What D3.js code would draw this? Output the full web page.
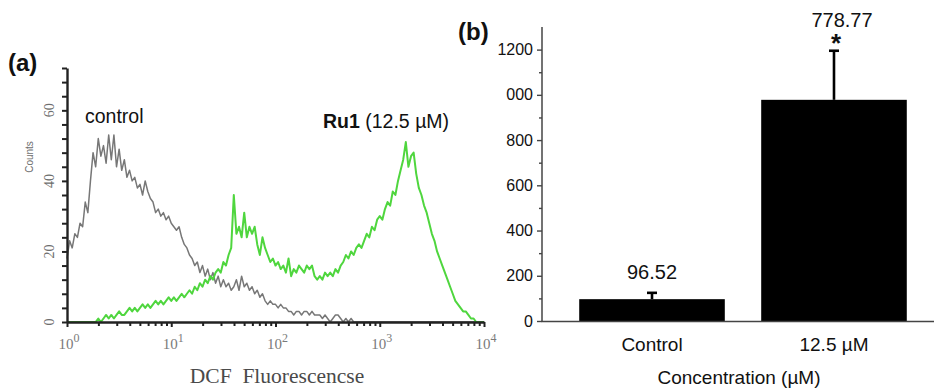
<!DOCTYPE html>
<html>
<head>
<meta charset="utf-8">
<script src="https://cdn.jsdelivr.net/npm/d3@7"></script>
<style>
  body { margin: 0; background: #fff; }
  svg { display: block; background: #fff; }
</style>
</head>
<body>
<svg></svg>
<script>
// Histograma (a): conteos por canal, canales espaciados 0.025 en log10 desde 10^0
const logStep = 0.025;
const controlCounts = [
  18, 23, 21, 25, 24, 28, 27, 34, 31, 40, 48, 44, 52, 47, 50, 45, 53, 46, 53, 44,
  49, 43, 46, 41, 43, 40, 41, 38, 39, 36, 40, 37, 35, 34, 31, 32, 30, 31, 29, 30,
  28, 27, 26, 27, 24, 22, 21, 19, 18, 16, 17, 14, 16, 13, 15, 12, 14, 11, 13, 10,
  12, 10, 11, 9, 10, 12, 9, 13, 10, 11, 9, 10, 8, 9, 7, 8, 6, 5, 6, 5,
  5, 4, 5, 4, 4, 3, 3, 2, 3, 3, 2, 3, 3, 2, 3, 2, 2, 2, 1, 2,
  1, 0, 1, 2, 2, 1, 0, 1, 0, 1, 0, 0, 0, 0, 0, 0, 0, 0, 0, 0,
  0, 0, 0, 0, 0, 0, 0, 0, 0, 0, 0, 0, 0, 0, 0, 0, 0, 0, 0, 0,
  0, 0, 0, 0, 0, 0, 0, 0, 0, 0, 0, 0, 0, 0, 0, 0, 0, 0, 0, 0, 0
];
const ru1Counts = [
  0, 0, 0, 0, 0, 0, 0, 0, 0, 0, 0, 0, 1, 0, 1, 2, 1, 2, 1, 2,
  3, 2, 2, 3, 4, 3, 4, 3, 4, 5, 4, 5, 4, 5, 6, 5, 6, 5, 6, 7,
  6, 7, 6, 7, 8, 7, 8, 9, 8, 10, 9, 11, 10, 12, 11, 13, 12, 14, 15, 14,
  17, 16, 19, 21, 36, 25, 27, 24, 31, 24, 27, 25, 27, 22, 19, 24, 21, 19, 17, 18,
  16, 17, 15, 16, 14, 18, 13, 15, 14, 16, 15, 14, 16, 15, 16, 13, 12, 13, 12, 14,
  13, 14, 13, 15, 14, 16, 17, 19, 18, 20, 19, 21, 22, 21, 23, 25, 24, 27, 26, 29,
  30, 29, 32, 34, 33, 37, 36, 40, 43, 46, 51, 44, 47, 48, 42, 38, 36, 33, 31, 28,
  25, 23, 20, 18, 16, 14, 12, 10, 8, 6, 5, 4, 3, 3, 2, 1, 1, 0, 0, 0, 0
];
const xExponents = [0, 1, 2, 3, 4];
const yLabelsA = [0, 20, 40, 60];

// Barras (b)
const categories = ["Control", "12.5 µM"];
const barValues = [96.52, 978];
const errorValues = [28, 217];
const barLabels = ["96.52", "778.77"];
const significance = ["", "*"];
const yTicksB = [0, 200, 400, 600, 800, 1000, 1200];
const yTickLabelsB = ["0", "200", "400", "600", "800", "000", "1200"];
const yMinorB = [100, 300, 500, 700, 900, 1100];

const svg = d3.select("svg").attr("width", 934).attr("height", 389);

// ---------- Panel (a) ----------
const xA = d3.scaleLog().domain([1, 1e4]).range([67, 484]);
const yA = d3.scaleLinear().domain([0, 72]).range([322, 68]);
const gA = svg.append("g");

const histLine = d3.line()
  .x((d, i) => xA(Math.pow(10, i * logStep)))
  .y(d => yA(d));

gA.append("path")
  .datum(controlCounts)
  .attr("d", histLine)
  .attr("fill", "none")
  .attr("stroke", "#777")
  .attr("stroke-width", 1.5)
  .attr("stroke-linejoin", "round");

gA.append("path")
  .datum(ru1Counts)
  .attr("d", histLine)
  .attr("fill", "none")
  .attr("stroke", "#4fd63e")
  .attr("stroke-width", 2)
  .attr("stroke-linejoin", "round");

// Ticks del eje x (mayores y menores logarítmicos)
const xMinor = [];
for (let k = 0; k < 4; k++) for (let m = 2; m <= 9; m++) xMinor.push(m * Math.pow(10, k));

gA.append("g")
  .attr("transform", `translate(0,${yA(0)})`)
  .call(d3.axisBottom(xA).tickValues(xMinor).tickSize(4).tickSizeOuter(0).tickFormat(""))
  .call(g => g.select(".domain").remove())
  .call(g => g.selectAll("line").attr("stroke", "#222").attr("stroke-width", 2));

gA.append("g")
  .attr("transform", `translate(0,${yA(0)})`)
  .call(d3.axisBottom(xA).tickValues(xExponents.map(e => Math.pow(10, e))).tickSize(5).tickSizeOuter(0).tickFormat(""))
  .call(g => g.select(".domain").attr("stroke", "#222").attr("stroke-width", 2.4))
  .call(g => g.selectAll("line").attr("stroke", "#222").attr("stroke-width", 2));

const xLab = gA.append("g")
  .selectAll("text")
  .data(xExponents)
  .join("text")
  .attr("x", d => xA(Math.pow(10, d)) + 2)
  .attr("y", 349)
  .attr("text-anchor", "middle")
  .style("font-family", "'Liberation Serif', 'DejaVu Serif', serif")
  .style("fill", "#7a7a7a");
xLab.append("tspan").text("10").style("font-size", "15px");
xLab.append("tspan").attr("dy", -7).text(d => d).style("font-size", "12px");

// Eje y (a)
gA.append("g")
  .attr("transform", `translate(${xA(1)},0)`)
  .call(d3.axisLeft(yA).tickValues(d3.range(0, 73, 4)).tickSize(5).tickSizeOuter(0).tickFormat(""))
  .call(g => g.select(".domain").attr("stroke", "#222").attr("stroke-width", 2.4))
  .call(g => g.selectAll("line").attr("stroke", "#222").attr("stroke-width", 2));

gA.append("g")
  .selectAll("text")
  .data(yLabelsA)
  .join("text")
  .attr("transform", d => `translate(54,${yA(d)}) rotate(-90)`)
  .attr("text-anchor", "middle")
  .text(d => d)
  .style("font-family", "'Liberation Serif', serif")
  .style("font-size", "14px")
  .style("fill", "#6e6e6e");

gA.append("text")
  .attr("transform", "translate(33,157) rotate(-90)")
  .attr("text-anchor", "middle")
  .text("Counts")
  .style("font-family", "'Liberation Sans', Arial, sans-serif")
  .style("font-size", "10px")
  .style("fill", "#6e6e6e");

gA.append("text")
  .attr("x", 277).attr("y", 383)
  .attr("text-anchor", "middle")
  .attr("xml:space", "preserve")
  .style("white-space", "pre")
  .text("DCF  Fluorescencse")
  .style("font-family", "'Liberation Serif', serif")
  .style("font-size", "21.5px")
  .style("fill", "#4a4a4a");

gA.append("text")
  .attr("x", 85).attr("y", 123)
  .text("control")
  .style("font-family", "'Liberation Sans', Arial, sans-serif")
  .style("font-size", "19.5px")
  .style("fill", "#111");

const ruLabel = gA.append("text")
  .attr("x", 323).attr("y", 128)
  .style("font-family", "'Liberation Sans', Arial, sans-serif")
  .style("font-size", "19.5px")
  .style("fill", "#111");
ruLabel.append("tspan").text("Ru1").style("font-weight", "bold");
ruLabel.append("tspan").text(" (12.5 µM)");

svg.append("text")
  .attr("x", 8).attr("y", 71)
  .text("(a)")
  .style("font-family", "'Liberation Sans', Arial, sans-serif")
  .style("font-weight", "bold")
  .style("font-size", "24px")
  .style("fill", "#111");

// ---------- Panel (b) ----------
const yB = d3.scaleLinear().domain([0, 1300]).range([321, 27]);
const xB = d3.scaleBand().domain(categories).range([541, 945]).paddingInner(0.2).paddingOuter(0.21);
const gB = svg.append("g");

gB.append("g")
  .selectAll("rect")
  .data(barValues)
  .join("rect")
  .attr("x", (d, i) => xB(categories[i]))
  .attr("width", xB.bandwidth())
  .attr("y", d => yB(d))
  .attr("height", d => yB(0) - yB(d))
  .attr("fill", "#000");

// Barras de error (solo hacia arriba)
const errG = gB.append("g").attr("stroke", "#000").attr("stroke-width", 2.6);
barValues.forEach((v, i) => {
  const cx = xB(categories[i]) + xB.bandwidth() / 2;
  errG.append("line").attr("x1", cx).attr("x2", cx).attr("y1", yB(v)).attr("y2", yB(v + errorValues[i]));
  errG.append("line").attr("x1", cx - 5).attr("x2", cx + 5).attr("y1", yB(v + errorValues[i])).attr("y2", yB(v + errorValues[i]));
});

gB.append("g")
  .selectAll("text")
  .data(barLabels)
  .join("text")
  .attr("x", (d, i) => xB(categories[i]) + xB.bandwidth() / 2 + (significance[i] ? 8 : 0))
  .attr("y", (d, i) => yB(barValues[i] + errorValues[i]) - (significance[i] ? 24 : 14))
  .attr("text-anchor", "middle")
  .text(d => d)
  .style("font-family", "'Liberation Sans', Arial, sans-serif")
  .style("font-size", "20px")
  .style("fill", "#111");

gB.append("g")
  .selectAll("text")
  .data(significance)
  .join("text")
  .attr("x", (d, i) => xB(categories[i]) + xB.bandwidth() / 2 + 2)
  .attr("y", (d, i) => yB(barValues[i] + errorValues[i]) + 1)
  .attr("text-anchor", "middle")
  .text(d => d)
  .style("font-family", "'Liberation Sans', Arial, sans-serif")
  .style("font-weight", "bold")
  .style("font-size", "26px")
  .style("fill", "#111");

// Ejes (b)
gB.append("g")
  .attr("transform", `translate(${xB.range()[0] + 1},0)`)
  .call(d3.axisLeft(yB).tickValues(yMinorB).tickSize(3).tickFormat(""))
  .call(g => g.select(".domain").remove())
  .call(g => g.selectAll("line").attr("stroke", "#444").attr("stroke-width", 1.4));

gB.append("g")
  .attr("transform", `translate(${xB.range()[0] + 1},0)`)
  .call(d3.axisLeft(yB).tickValues(yTicksB).tickSize(5).tickSizeOuter(0).tickPadding(4)
    .tickFormat((d, i) => yTickLabelsB[i]))
  .call(g => g.select(".domain").attr("stroke", "#444").attr("stroke-width", 1.5).attr("d", `M0,${yB(0)}V27`))
  .call(g => g.selectAll("line").attr("stroke", "#444").attr("stroke-width", 1.4))
  .call(g => g.selectAll("text")
    .style("font-family", "'Liberation Sans', Arial, sans-serif")
    .style("font-size", "16px")
    .style("fill", "#111"));

gB.append("g")
  .attr("transform", `translate(0,${yB(0)})`)
  .call(d3.axisBottom(xB).tickSize(0).tickPadding(17).tickSizeOuter(0))
  .call(g => g.select(".domain").attr("stroke", "#444").attr("stroke-width", 1.5))
  .call(g => g.selectAll("text")
    .style("font-family", "'Liberation Sans', Arial, sans-serif")
    .style("font-size", "19px")
    .style("fill", "#111"));

gB.append("text")
  .attr("x", 739).attr("y", 384)
  .attr("text-anchor", "middle")
  .text("Concentration (µM)")
  .style("font-family", "'Liberation Sans', Arial, sans-serif")
  .style("font-size", "19px")
  .style("fill", "#111");

svg.append("text")
  .attr("x", 458).attr("y", 40)
  .text("(b)")
  .style("font-family", "'Liberation Sans', Arial, sans-serif")
  .style("font-weight", "bold")
  .style("font-size", "24px")
  .style("fill", "#111");
</script>
</body>
</html>
